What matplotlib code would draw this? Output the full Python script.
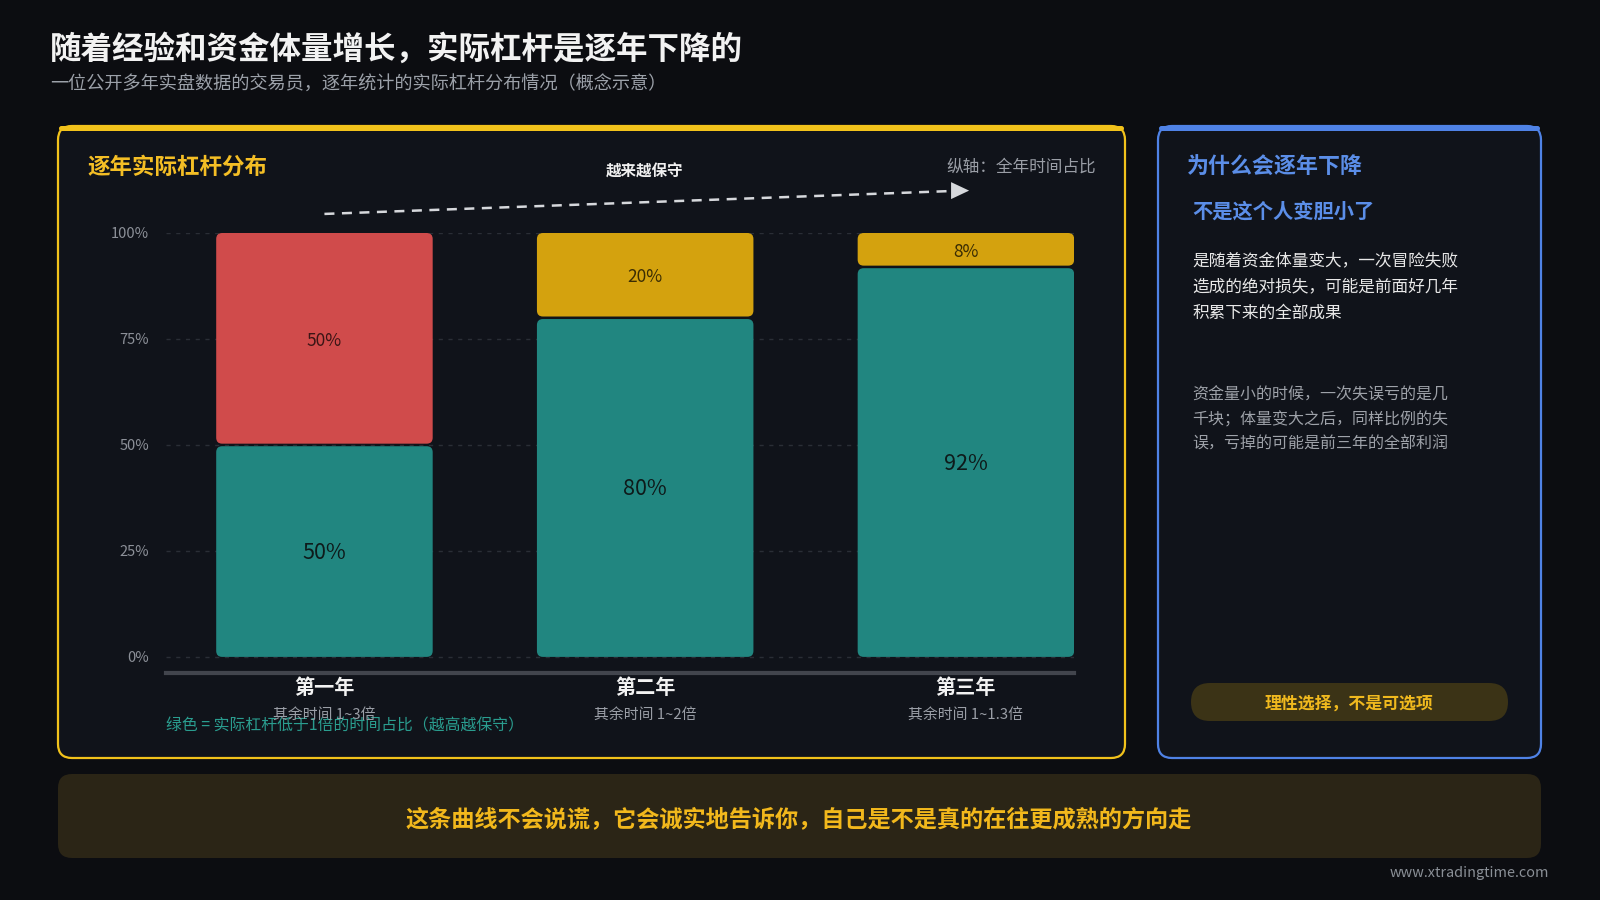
import matplotlib
matplotlib.use("Agg")
import matplotlib.pyplot as plt
from matplotlib.patches import FancyBboxPatch

plt.rcParams["font.family"] = ["Noto Sans CJK SC", "DejaVu Sans"]

# chart data
years = ["第一年", "第二年", "第三年"]
sub_labels = ["其余时间 1~3倍", "其余时间 1~2倍", "其余时间 1~1.3倍"]
low_lev_share = [50, 80, 92]     # green: time with leverage < 1x
rest_share = [50, 20, 8]          # remaining time
y_ticks = [0, 25, 50, 75, 100]

title = "随着经验和资金体量增长，实际杠杆是逐年下降的"
subtitle = "一位公开多年实盘数据的交易员，逐年统计的实际杠杆分布情况（概念示意）"
right_lines = ["是随着资金体量变大，一次冒险失败", "造成的绝对损失，可能是前面好几年", "积累下来的全部成果"]
right_gray = ["资金量小的时候，一次失误亏的是几", "千块；体量变大之后，同样比例的失", "误，亏掉的可能是前三年的全部利润"]

BG = "#0c0d11"
PANEL = "#10131a"
YELLOW = "#f2c21b"
BLUE = "#4f82e6"
TEAL = "#218680"
RED = "#d04b4b"
GOLD = "#d4a20e"
rest_colors = [RED, GOLD, GOLD]

W, H = 1600, 900
fig = plt.figure(figsize=(16, 9), dpi=100, facecolor=BG)
bg = fig.add_axes([0, 0, 1, 1], zorder=0)
bg.set_xlim(0, W)
bg.set_ylim(H, 0)
bg.axis("off")


def panel(x0, y0, x1, y1, edge, face, r=14):
    bg.add_patch(FancyBboxPatch((x0, y0), x1 - x0, y1 - y0,
                                boxstyle=f"round,pad=0,rounding_size={r}",
                                fc=face, ec=edge, lw=1.6))
    if edge != "none":
        bg.add_patch(FancyBboxPatch((x0 + 1, y0), x1 - x0 - 2, 5,
                                    boxstyle="round,pad=0,rounding_size=2.5",
                                    fc=edge, ec="none"))


# header
bg.text(50, 50, title, color="#f2f2f2", fontsize=22.7, fontweight="bold", va="center")
bg.text(50, 84, subtitle, color="#9ca1a9", fontsize=13.1, va="center")

# panels
panel(58, 126, 1125, 758, YELLOW, PANEL)
panel(1158, 126, 1541, 758, BLUE, PANEL)
panel(58, 774, 1541, 858, "none", "#2b2516")

bg.text(87, 167, "逐年实际杠杆分布", color="#f4be25", fontsize=16.2, fontweight="bold", va="center")
bg.text(1096, 167, "纵轴：全年时间占比", color="#9a9ea6", fontsize=12, va="center", ha="right")
bg.text(645, 172, "越来越保守", color="#f0f0f0", fontsize=11.2, fontweight="bold", va="center", ha="center")
bg.text(166, 726, "绿色 = 实际杠杆低于1倍的时间占比（越高越保守）", color="#2a9d8f", fontsize=11.4, va="center")

# right panel
bg.text(1187, 167, "为什么会逐年下降", color="#5b8ee8", fontsize=15.8, fontweight="bold", va="center")
bg.text(1192, 211, "不是这个人变胆小了", color="#5b8ee8", fontsize=14.6, fontweight="bold", va="center")
for i, line in enumerate(right_lines):
    bg.text(1192, 261 + i * 26, line, color="#e8e8e8", fontsize=12, va="center")
for i, line in enumerate(right_gray):
    bg.text(1192, 395 + i * 24.5, line, color="#9ea2a9", fontsize=11.5, va="center")
bg.add_patch(FancyBboxPatch((1191, 683), 317, 38, boxstyle="round,pad=0,rounding_size=19",
                            fc="#3b3316", ec="none"))
bg.text(1349, 704, "理性选择，不是可选项", color="#f0b91e", fontsize=12.2, fontweight="bold",
        va="center", ha="center")

# bottom banner
bg.text(799, 820, "这条曲线不会说谎，它会诚实地告诉你，自己是不是真的在往更成熟的方向走",
        color="#f2b81c", fontsize=16.7, fontweight="bold", va="center", ha="center")
bg.text(1549, 873, "www.xtradingtime.com", color="#8a8f96", fontsize=10.4, va="center", ha="right")

# chart axes
ax_l, ax_r, ax_t, ax_b = 166, 1074, 233, 673
xlo, xhi, ylo, yhi = -0.494, 2.337, -3.8, 100
ax = fig.add_axes([ax_l / W, 1 - ax_b / H, (ax_r - ax_l) / W, (ax_b - ax_t) / H], zorder=1)
ax.set_facecolor("none")
ax.set_xlim(xlo, xhi)
ax.set_ylim(ylo, yhi)
for s in ["top", "right", "left"]:
    ax.spines[s].set_visible(False)
ax.spines["bottom"].set_color("#42454d")
ax.spines["bottom"].set_linewidth(3)
ax.set_xticks([])
ax.set_yticks(y_ticks, [f"{t}%" for t in y_ticks])
ax.tick_params(axis="y", length=0, pad=12, labelcolor="#8c9098", labelsize=10.5)
ax.grid(axis="y", color="#2a2e36", lw=1, ls=(0, (3, 4)))
ax.set_axisbelow(True)

# aspect for rounded corners (px per x-unit / px per y-unit)
px_x = (ax_r - ax_l) / (xhi - xlo)
px_y = (ax_b - ax_t) / (yhi - ylo)
aspect = px_x / px_y
r = 6 / px_x
bw = 0.675
gap = 0.3


def rbar(x, y0, y1, color):
    ax.add_patch(FancyBboxPatch((x - bw / 2, y0), bw, y1 - y0,
                                boxstyle=f"round,pad=0,rounding_size={r}",
                                mutation_aspect=aspect, fc=color, ec="none", zorder=2))


for i, (g, u) in enumerate(zip(low_lev_share, rest_share)):
    rbar(i, 0, g - gap, TEAL)
    rbar(i, g + gap, g + u, rest_colors[i])
    ax.text(i, g / 2 - 0.4, f"{g}%", ha="center", va="center", color="#0e1a1a", fontsize=15.5, zorder=3)
    ax.text(i, g + u / 2 - 0.4, f"{u}%", ha="center", va="center", color="#000000", alpha=0.72,
            fontsize=12.5, zorder=3)
    ax.text(i, -7.3, years[i], ha="center", va="center", color="#f2f2f2", fontsize=14.5,
            fontweight="bold", clip_on=False)
    ax.text(i, -13.7, sub_labels[i], ha="center", va="center", color="#9a9ea6", fontsize=10.7,
            clip_on=False)

# "more and more conservative" arrow: dashed shaft + solid head
arrow_color = "#d6d8dc"
x_head = 1.954
ax.plot([0, x_head], [104.5, 109.9], color=arrow_color, lw=1.8, ls=(0, (4, 3)), clip_on=False)
ax.annotate("", xy=(2.01, 110.0), xytext=(x_head, 110.0), annotation_clip=False,
            arrowprops=dict(arrowstyle="-|>,head_length=1.0,head_width=0.47",
                            color=arrow_color, lw=0, mutation_scale=13,
                            shrinkA=0, shrinkB=0))

fig.savefig("out.png", dpi=100, facecolor=BG)
